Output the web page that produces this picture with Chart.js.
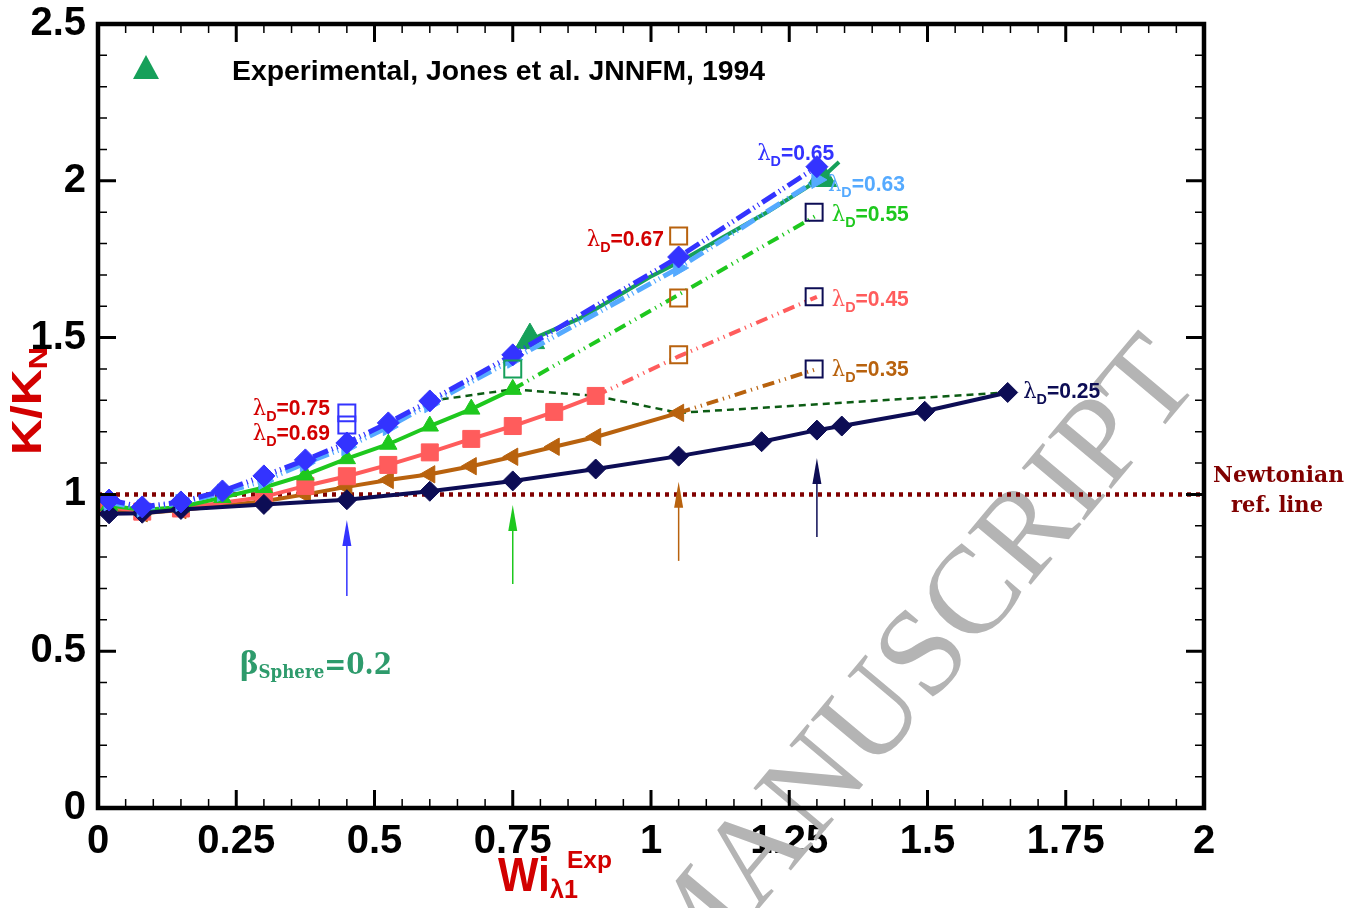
<!DOCTYPE html>
<html><head><meta charset="utf-8">
<script src="https://cdn.jsdelivr.net/npm/chart.js@4.4.1/dist/chart.umd.min.js"></script>
<style>html,body{margin:0;padding:0;background:#fff;overflow:hidden}</style>
</head><body>
<canvas id="c" width="1362" height="908"></canvas>
<script>
// ---------- data ----------
const xTickLabels = ['0','0.25','0.5','0.75','1','1.25','1.5','1.75','2'];
const yTickLabels = ['0','0.5','1','1.5','2','2.5'];

// lambda_D = 0.65 (blue diamonds)
const wi_065 = [0.02,0.08,0.15,0.225,0.30,0.375,0.45,0.525,0.60,0.75,1.05,1.30];
const k_065  = [0.982,0.960,0.976,1.011,1.059,1.110,1.164,1.228,1.298,1.445,1.757,2.045];
// lambda_D = 0.63 (light blue right triangles)
const wi_063 = [0.02,0.08,0.15,0.225,0.30,0.375,0.45,0.525,0.60,0.75,1.05,1.30];
const k_063  = [0.975,0.955,0.973,1.005,1.043,1.100,1.151,1.215,1.288,1.430,1.722,2.003];
// lambda_D = 0.25 (navy diamonds)
const wi_025 = [0.02,0.08,0.15,0.30,0.45,0.60,0.75,0.90,1.05,1.20,1.30,1.345,1.495,1.645];
const k_025  = [0.938,0.940,0.952,0.968,0.983,1.010,1.043,1.081,1.122,1.168,1.205,1.218,1.265,1.325];
// lambda_D = 0.55 (green triangles) + extrapolation
const wi_055 = [0.02,0.08,0.15,0.225,0.30,0.375,0.45,0.525,0.60,0.675,0.75];
const k_055  = [0.965,0.950,0.960,0.990,1.022,1.062,1.114,1.160,1.218,1.272,1.335];
const wi_055x = [0.75,1.05,1.30];
const k_055x  = [1.335,1.637,1.890];
// lambda_D = 0.45 (salmon squares) + extrapolation
const wi_045 = [0.02,0.08,0.15,0.30,0.375,0.45,0.525,0.60,0.675,0.75,0.825,0.90];
const k_045  = [0.960,0.945,0.955,0.992,1.027,1.058,1.094,1.134,1.177,1.218,1.263,1.314];
const wi_045x = [0.90,1.05,1.30];
const k_045x  = [1.314,1.440,1.630];
// lambda_D = 0.35 (brown left triangles) + extrapolation
const wi_035 = [0.02,0.08,0.15,0.30,0.375,0.45,0.525,0.60,0.675,0.75,0.825,0.90,1.05];
const k_035  = [0.950,0.940,0.950,0.978,1.000,1.024,1.046,1.064,1.090,1.120,1.152,1.183,1.260];
const wi_035x = [1.05,1.30];
const k_035x  = [1.260,1.400];
// line joining the last computed points
const wi_crit = [0.60,0.75,0.90,1.05,1.645];
const k_crit  = [1.298,1.335,1.314,1.260,1.325];
// experimental, Jones et al. 1994
const wi_exp = [0.781,0.872,0.998,1.05,1.13,1.21,1.309,1.34];
const k_exp  = [1.492,1.562,1.693,1.740,1.820,1.900,2.009,2.060];
const exp_marker = [1,0,0,0,0,0,1,0];
// Newtonian reference
const wi_newt = [0,2];
const k_newt  = [1,1];
// open squares
const wi_sqBlue = [0.45,0.45];   const k_sqBlue = [1.260,1.221];
const wi_sqGreen = [0.75];       const k_sqGreen = [1.400];
const wi_sqBrown = [1.05,1.05,1.05]; const k_sqBrown = [1.824,1.626,1.445];
const wi_sqNavy = [1.295,1.295,1.295]; const k_sqNavy = [1.900,1.630,1.400];
// arrows (x, from, to)
const arrowX    = [0.45,0.75,1.05,1.30];
const arrowFrom = [0.676,0.714,0.788,0.864];
const arrowTo   = [0.918,0.966,1.040,1.116];

// ---------- helpers ----------
const pts = (xs, ys) => xs.map((x, i) => ({x: x, y: ys[i]}));
const C = {
  blue:'#3333ff', lblue:'#55aaff', navy:'#0d0d55', green:'#1ec81e', salmon:'#ff5c5c',
  brown:'#b8620e', dgreen:'#0c5c14', exp:'#16a05a', newt:'#800000', red:'#d20000'
};
const dashDots = [16,4,1.2,4,1.2,4];
const dashDots2 = [12,5,1.2,5,1.2,5];

function series(label, xs, ys, color, style, radius, rot, dash, width) {
  return {label, data: pts(xs, ys), showLine: true, borderColor: color, backgroundColor: color,
    pointBackgroundColor: color, pointBorderColor: color, pointBorderWidth: 1,
    pointStyle: style, pointRadius: radius, pointRotation: rot || 0,
    borderWidth: width || 4, borderDash: dash || [], tension: 0};
}
function squares(label, xs, ys, color) {
  return {label, data: pts(xs, ys), showLine: false, pointStyle: 'rect', pointRadius: 12,
    pointBackgroundColor: 'rgba(0,0,0,0)', pointBorderColor: color, pointBorderWidth: 2};
}

const datasets = [
  squares('sqBlue', wi_sqBlue, k_sqBlue, C.blue),
  squares('sqGreen', wi_sqGreen, k_sqGreen, C.exp),
  squares('sqBrown', wi_sqBrown, k_sqBrown, C.brown),
  squares('sqNavy', wi_sqNavy, k_sqNavy, C.navy),
  series('0.65', wi_065, k_065, C.blue, 'rectRot', 11, 0, dashDots, 5),
  series('0.63', wi_063, k_063, C.lblue, 'triangle', 10, 90, dashDots, 5),
  Object.assign(series('exp', wi_exp, k_exp, C.exp, 'triangle', 0, 0, [], 4),
     {pointRadius: exp_marker.map(m => m ? 17 : 0)}),
  series('0.25', wi_025, k_025, C.navy, 'rectRot', 10, 0, [], 4),
  series('0.55', wi_055, k_055, C.green, 'triangle', 10, 0, [], 4),
  series('0.55x', wi_055x, k_055x, C.green, 'circle', 0, 0, dashDots2, 4),
  series('0.45', wi_045, k_045, C.salmon, 'rect', 12, 0, [], 4),
  series('0.45x', wi_045x, k_045x, C.salmon, 'circle', 0, 0, dashDots2, 4),
  series('0.35', wi_035, k_035, C.brown, 'triangle', 10, -90, [], 4),
  series('0.35x', wi_035x, k_035x, C.brown, 'circle', 0, 0, dashDots2, 4),
  series('crit', wi_crit, k_crit, C.dgreen, 'circle', 0, 0, [7,5], 2.5),
  series('newt', wi_newt, k_newt, C.newt, 'circle', 0, 0, [4,5], 4.5)
];

// text annotations: [x, y (data), value, colour]
const lambdaLabels = [
  [1.192, 2.092, '0.65', C.blue],
  [1.320, 1.993, '0.63', C.lblue],
  [1.327, 1.897, '0.55', C.green],
  [0.884, 1.818, '0.67', C.red],
  [1.327, 1.626, '0.45', C.salmon],
  [1.327, 1.403, '0.35', C.brown],
  [1.673, 1.333, '0.25', C.navy],
  [0.280, 1.279, '0.75', C.red],
  [0.280, 1.199, '0.69', C.red]
];

function runs(ctx, x, base, parts, targetW) {
  let w = 0;
  parts.forEach(p => { ctx.font = p.f; p.w = ctx.measureText(p.t).width; w += p.w; });
  const sx = targetW ? targetW / w : 1;
  ctx.save(); ctx.translate(x, base); ctx.scale(sx, 1);
  let cx = 0;
  parts.forEach(p => { ctx.font = p.f; ctx.fillText(p.t, cx, p.dy || 0); cx += p.w; });
  ctx.restore();
}

const decor = {
  id: 'decor',
  beforeDatasetsDraw(chart) {
    const ctx = chart.ctx;
    ctx.save();
    ctx.translate(918, 668);
    ctx.rotate(-50 * Math.PI / 180);
    ctx.font = '125px "Liberation Serif"';
    ctx.fillStyle = '#b4b4b4';
    ctx.textAlign = 'center'; ctx.textBaseline = 'middle';
    ctx.fillText('MANUSCRIPT', 0, 0);
    ctx.restore();
  },
  afterDraw(chart) {
    const ctx = chart.ctx, xs = chart.scales.x, ys = chart.scales.y, a = chart.chartArea;
    ctx.save();
    // arrows
    const arrowColors = [C.blue, C.green, C.brown, C.navy];
    arrowX.forEach((xv, i) => {
      const px = xs.getPixelForValue(xv), y0 = ys.getPixelForValue(arrowFrom[i]), y1 = ys.getPixelForValue(arrowTo[i]);
      ctx.strokeStyle = arrowColors[i]; ctx.fillStyle = arrowColors[i]; ctx.lineWidth = 1.5;
      ctx.beginPath(); ctx.moveTo(px, y0); ctx.lineTo(px, y1 + 20); ctx.stroke();
      ctx.beginPath(); ctx.moveTo(px, y1); ctx.lineTo(px - 4.5, y1 + 26); ctx.lineTo(px + 4.5, y1 + 26); ctx.closePath(); ctx.fill();
    });
    // frame + inward ticks
    ctx.strokeStyle = '#000'; ctx.lineCap = 'butt';
    for (let i = 0; i <= 40; i++) {
      const v = i * 0.05, px = xs.getPixelForValue(v), maj = i % 5 === 0, L = maj ? 18 : 9;
      ctx.lineWidth = maj ? 3 : 1.5;
      ctx.beginPath(); ctx.moveTo(px, a.bottom); ctx.lineTo(px, a.bottom - L);
      ctx.moveTo(px, a.top); ctx.lineTo(px, a.top + L); ctx.stroke();
    }
    for (let i = 0; i <= 25; i++) {
      const v = i * 0.1, py = ys.getPixelForValue(v), maj = i % 5 === 0, L = maj ? 18 : 9;
      ctx.lineWidth = maj ? 3 : 1.5;
      ctx.beginPath(); ctx.moveTo(a.left, py); ctx.lineTo(a.left + L, py);
      ctx.moveTo(a.right, py); ctx.lineTo(a.right - L, py); ctx.stroke();
    }
    ctx.lineWidth = 4.5;
    ctx.strokeRect(a.left, a.top, a.right - a.left, a.bottom - a.top);

    // lambda labels
    ctx.textAlign = 'left'; ctx.textBaseline = 'alphabetic';
    lambdaLabels.forEach(l => {
      const px = xs.getPixelForValue(l[0]), py = ys.getPixelForValue(l[1]) + 8;
      ctx.fillStyle = l[3];
      runs(ctx, px, py, [
        {t: 'λ', f: '22px "DejaVu Serif"'},
        {t: 'D', f: 'bold 15px "Liberation Sans"', dy: 6},
        {t: '=' + l[2], f: 'bold 22px "Liberation Sans"'}
      ], 77);
    });

    // legend
    ctx.fillStyle = C.exp;
    ctx.beginPath(); ctx.moveTo(146, 55); ctx.lineTo(159, 79); ctx.lineTo(133, 79); ctx.closePath(); ctx.fill();
    ctx.fillStyle = '#000';
    runs(ctx, 232, 80, [{t: 'Experimental, Jones et al. JNNFM, 1994', f: 'bold 27px "Liberation Sans"'}], 533);

    // Newtonian label
    ctx.fillStyle = C.newt;
    runs(ctx, 1213, 482, [{t: 'Newtonian', f: 'bold 23px "DejaVu Serif"'}], 131);
    runs(ctx, 1231, 512, [{t: 'ref. line', f: 'bold 23px "DejaVu Serif"'}], 92);

    // beta label
    ctx.fillStyle = '#2e9b6c';
    runs(ctx, 240, 674, [
      {t: 'β', f: 'bold 32px "DejaVu Serif"'},
      {t: 'Sphere', f: 'bold 19px "DejaVu Serif"', dy: 4},
      {t: '=0.2', f: 'bold 30px "DejaVu Serif"'}
    ], 152);

    // axis titles
    ctx.fillStyle = C.red;
    runs(ctx, 498, 891, [{t: 'Wi', f: 'bold 49px "Liberation Sans"'}], 52);
    runs(ctx, 550, 898, [{t: 'λ1', f: 'bold 26px "Liberation Sans"'}], 28);
    runs(ctx, 567, 868, [{t: 'Exp', f: 'bold 24px "Liberation Sans"'}], 45);
    ctx.save();
    ctx.translate(41, 455); ctx.rotate(-Math.PI / 2);
    runs(ctx, 0, 0, [{t: 'K/K', f: 'bold 42px "Liberation Sans"'}, {t: 'N', f: 'bold 26px "Liberation Sans"', dy: 6}], 108);
    ctx.restore();
    ctx.restore();
  }
};

new Chart(document.getElementById('c'), {
  type: 'scatter',
  data: {datasets},
  options: {
    responsive: false, devicePixelRatio: 1, animation: false,
    layout: {padding: {top: 24, right: 158, left: 0, bottom: 0}},
    plugins: {legend: {display: false}, tooltip: {enabled: false}},
    scales: {
      x: {type: 'linear', min: 0, max: 2,
        afterFit(s) { s.height = 100; s.paddingLeft = 0; s.paddingRight = 0; },
        afterBuildTicks(s) { s.ticks = xTickLabels.map(t => ({value: parseFloat(t)})); },
        grid: {display: false, drawTicks: false}, border: {display: false},
        ticks: {padding: 10, maxRotation: 0, autoSkip: false, color: '#000',
          font: {family: '"Liberation Sans"', weight: 'bold', size: 40},
          callback: (v, i) => xTickLabels[i]}},
      y: {type: 'linear', min: 0, max: 2.5,
        afterFit(s) { s.width = 98; s.paddingTop = 0; s.paddingBottom = 0; },
        afterBuildTicks(s) { s.ticks = yTickLabels.map(t => ({value: parseFloat(t)})); },
        grid: {display: false, drawTicks: false}, border: {display: false},
        ticks: {padding: 12, color: '#000',
          font: {family: '"Liberation Sans"', weight: 'bold', size: 40},
          callback: (v, i) => yTickLabels[i]}}
    }
  },
  plugins: [decor]
});
</script>
</body></html>
